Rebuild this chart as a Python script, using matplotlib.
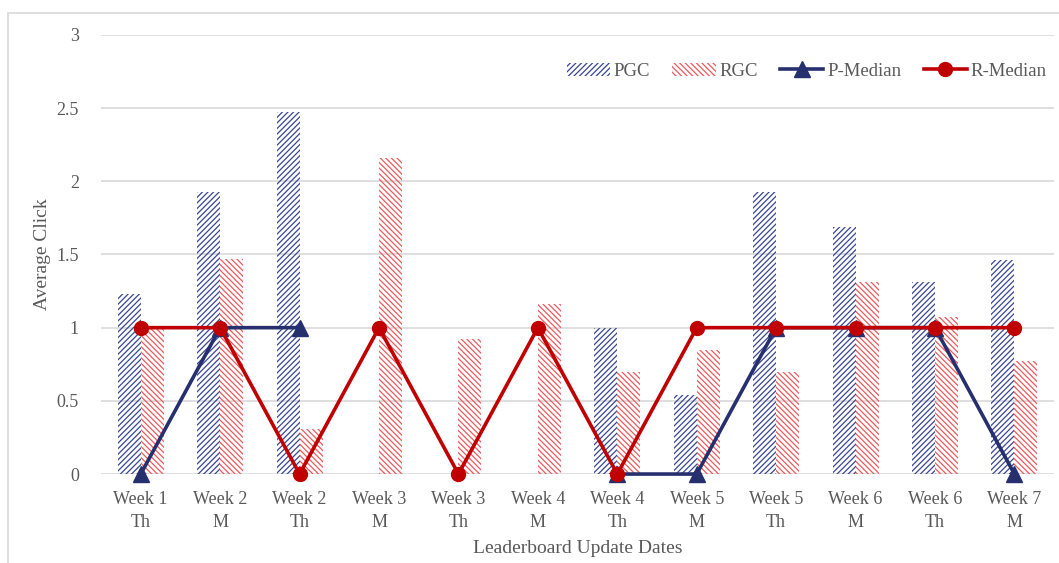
import numpy as np
import matplotlib.pyplot as plt
from matplotlib.patches import Rectangle

plt.rcParams['font.family'] = ['Liberation Serif', 'DejaVu Serif']
plt.rcParams['hatch.linewidth'] = 0.9

# Leaderboard update dates (week + day)
categories = ["Week 1\nTh", "Week 2\nM", "Week 2\nTh", "Week 3\nM", "Week 3\nTh", "Week 4\nM",
              "Week 4\nTh", "Week 5\nM", "Week 5\nTh", "Week 6\nM", "Week 6\nTh", "Week 7\nM"]
pgc = [1.23, 1.93, 2.47, 0, 0, 0, 1.00, 0.54, 1.93, 1.69, 1.31, 1.46]
rgc = [1.00, 1.47, 0.31, 2.16, 0.92, 1.16, 0.70, 0.85, 0.70, 1.31, 1.07, 0.77]
p_median = [0, 1, 1, np.nan, np.nan, np.nan, 0, 0, 1, 1, 1, 0]
r_median = [1, 1, 0, 1, 0, 1, 0, 1, 1, 1, 1, 1]

navy = "#27306e"
red = "#c00000"
grey_text = "#595959"

fig = plt.figure(figsize=(10.59, 5.63), dpi=100)
ax = fig.add_axes([0.0954, 0.158, 0.9, 0.78])

x = np.arange(len(categories))
w = 0.29
b1 = ax.bar(x - w / 2, pgc, w, color="none", edgecolor="#3a4690", hatch="//////", linewidth=0, label="PGC", zorder=2)
b2 = ax.bar(x + w / 2, rgc, w, color="none", edgecolor="#eb5a5e", hatch="\\\\\\\\\\\\", linewidth=0, label="RGC", zorder=2)
l1, = ax.plot(x, p_median, color=navy, lw=2.6, marker="^", ms=11, label="P-Median", zorder=3, clip_on=False)
l2, = ax.plot(x, r_median, color=red, lw=2.6, marker="o", ms=10, label="R-Median", zorder=4, clip_on=False)

ax.set_xlim(-0.5, len(categories) - 0.5)
ax.set_ylim(0, 3)
ax.set_yticks([0, 0.5, 1, 1.5, 2, 2.5, 3])
ax.set_yticklabels(["0", "0.5", "1", "1.5", "2", "2.5", "3"])
ax.set_xticks(x)
ax.set_xticklabels(categories, linespacing=1.5)
ax.tick_params(axis="both", length=0, labelsize=13, colors=grey_text)
ax.tick_params(axis="y", pad=16)
ax.tick_params(axis="x", pad=12)
ax.grid(axis="y", color="#d9d9d9", lw=1.2, zorder=0)
ax.set_axisbelow(True)
for s in ax.spines.values():
    s.set_visible(False)

ax.set_ylabel("Average Click", fontsize=14, color=grey_text, labelpad=4)
ax.set_xlabel("Leaderboard Update Dates", fontsize=14, color=grey_text, labelpad=6)

leg = ax.legend([b1, b2, l1, l2], ["PGC", "RGC", "P-Median", "R-Median"], loc="upper right",
                bbox_to_anchor=(1.01, 0.975), ncol=4, frameon=False, fontsize=13.5,
                handlelength=2.3, columnspacing=1.2, handletextpad=0.2)
for t in leg.get_texts():
    t.set_color(grey_text)

# light chart border
fig.patches.append(Rectangle((8 / 1059, -0.1), 1.2, 1 - 13 / 563 + 0.1, transform=fig.transFigure,
                             fill=False, edgecolor="#d9d9d9", lw=1.2))

fig.savefig("out.png", dpi=100)
